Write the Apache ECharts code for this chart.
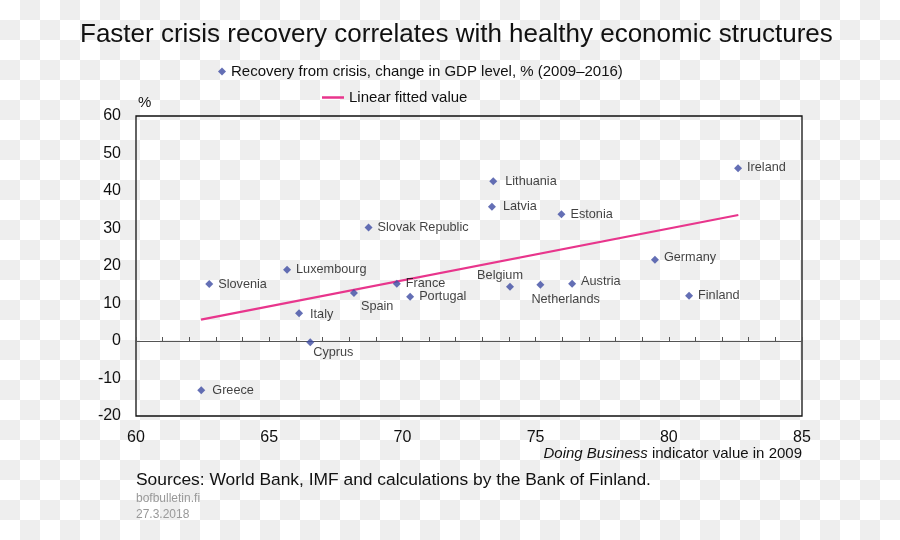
<!DOCTYPE html>
<html>
<head>
<meta charset="utf-8">
<script src="https://cdn.jsdelivr.net/npm/echarts@6/dist/echarts.min.js"></script>
<style>
html,body{margin:0;padding:0;}
body{width:900px;height:540px;background-color:#fff;
background-image:repeating-conic-gradient(#eeeeee 0 25%, #ffffff 0 50%);
background-size:40px 40px;background-position:0 0;}
#chart{width:900px;height:540px;}
</style>
</head>
<body>
<div id="chart"></div>
<script>
// ---- data ----
const countries = ['Slovenia','Luxembourg','Slovak Republic','Spain','France','Portugal','Italy','Cyprus','Greece','Ireland','Lithuania','Latvia','Estonia','Germany','Belgium','Netherlands','Austria','Finland'];
const doingBusiness = [62.75,65.67,68.73,68.18,69.79,70.29,66.12,66.54,62.45,82.6,73.41,73.36,75.97,79.48,74.04,75.18,76.37,80.76];
const gdpRecovery = [15.2,19.0,30.3,12.8,15.3,11.8,7.4,-0.3,-13.1,46.1,42.6,35.8,33.8,21.7,14.5,15.0,15.3,12.1];
const fitX = [62.44, 82.61];
const fitY = [5.7, 33.6];
const xTicks = [60,65,70,75,80,85];
const yTicks = [-20,-10,0,10,20,30,40,50,60];

const scatterName = 'Recovery from crisis, change in GDP level, % (2009\u20132016)';
const lineName = 'Linear fitted value';

// label placement (style only)
const labelStyle = {
  'Spain': {position:'right', offset:[-2,13]},
  'Cyprus': {position:'right', offset:[-6,10]},
  'Belgium': {position:'top', offset:[-10,4]},
  'Netherlands': {position:'right', offset:[-18,15]},
  'Italy': {position:'right', offset:[2,1]},
  'Greece': {position:'right', offset:[2,0]},
  'Lithuania': {position:'right', offset:[3,0]},
  'Latvia': {position:'right', offset:[2,0]},
  'Germany': {position:'right', offset:[0,-2]},
  'Austria': {position:'right', offset:[0,-2]},
  'Ireland': {position:'right', offset:[0,-1]}
};

const FONT = '"Liberation Sans", Arial, sans-serif';

const scatterData = countries.map((n,i)=>{
  const item = {name:n, value:[doingBusiness[i], gdpRecovery[i]]};
  if (labelStyle[n]) item.label = Object.assign({}, labelStyle[n]);
  return item;
});

const chart = echarts.init(document.getElementById('chart'), null, {renderer:'canvas'});
chart.setOption({
  backgroundColor:'transparent',
  animation:false,
  title:{
    text:'Faster crisis recovery correlates with healthy economic structures',
    left:75, top:17,
    textStyle:{fontFamily:FONT, fontSize:26, fontWeight:'normal', color:'#111'}
  },
  legend:[
    {data:[scatterName], left:213, top:59, itemWidth:8, itemHeight:8, itemGap:0,
     textStyle:{fontFamily:FONT, fontSize:15, color:'#111'}},
    {data:[{name:lineName, icon:'rect'}], left:317, top:85, itemWidth:22, itemHeight:2.5,
     textStyle:{fontFamily:FONT, fontSize:15, color:'#111'}}
  ],
  grid:{left:136, right:98, top:116, bottom:124, show:true, borderColor:'#111', borderWidth:1.3, backgroundColor:'transparent'},
  xAxis:[
    {type:'value', min:60, max:85, interval:5, position:'bottom',
     axisLine:{show:false, onZero:false}, axisTick:{show:false}, splitLine:{show:false},
     axisLabel:{fontFamily:FONT, fontSize:16, color:'#111', margin:14,
       formatter:v=> xTicks.includes(v) ? String(v) : ''}},
    {type:'value', min:60, max:85, interval:1, position:'top',
     axisLine:{show:true, onZero:true, lineStyle:{color:'#555', width:1}},
     axisTick:{show:true, length:4, lineStyle:{color:'#555'}},
     axisLabel:{show:false}, splitLine:{show:false}}
  ],
  yAxis:{type:'value', min:-20, max:60, interval:10,
    name:'%', nameLocation:'end', nameGap:6,
    nameTextStyle:{fontFamily:FONT, fontSize:15, color:'#111', align:'left', padding:[0,0,0,2]},
    axisLine:{show:false}, axisTick:{show:false}, splitLine:{show:false},
    axisLabel:{fontFamily:FONT, fontSize:16, color:'#111', margin:15,
      formatter:v=> yTicks.includes(v) ? String(v) : ''}},
  series:[
    {name:scatterName, type:'scatter', xAxisIndex:0, symbol:'diamond', symbolSize:8,
     itemStyle:{color:'#3d4ba2'},
     label:{show:true, position:'right', distance:5, formatter:'{b}',
       fontFamily:FONT, fontSize:12.7, color:'#111'},
     data:scatterData, z:3},
    {name:lineName, type:'line', xAxisIndex:0, symbol:'none', showSymbol:false,
     lineStyle:{color:'#e8358c', width:2.2}, itemStyle:{color:'#e8358c'},
     data:fitX.map((x,i)=>[x, fitY[i]]), z:2}
  ],
  graphic:[
    {type:'text', right:98, top:446,
     style:{text:'{i|Doing Business} indicator value in 2009', fontFamily:FONT, fontSize:15, fill:'#111',
       rich:{i:{fontFamily:FONT, fontSize:15, fontStyle:'italic', fill:'#111'}}}},
    {type:'text', left:136, top:472,
     style:{text:'Sources: World Bank, IMF and calculations by the Bank of Finland.', fontFamily:FONT, fontSize:17.4, fill:'#111'}},
    {type:'text', left:136, top:493,
     style:{text:'bofbulletin.fi', fontFamily:FONT, fontSize:12, fill:'#999'}},
    {type:'text', left:136, top:509,
     style:{text:'27.3.2018', fontFamily:FONT, fontSize:12, fill:'#999'}}
  ]
});
</script>
</body>
</html>
